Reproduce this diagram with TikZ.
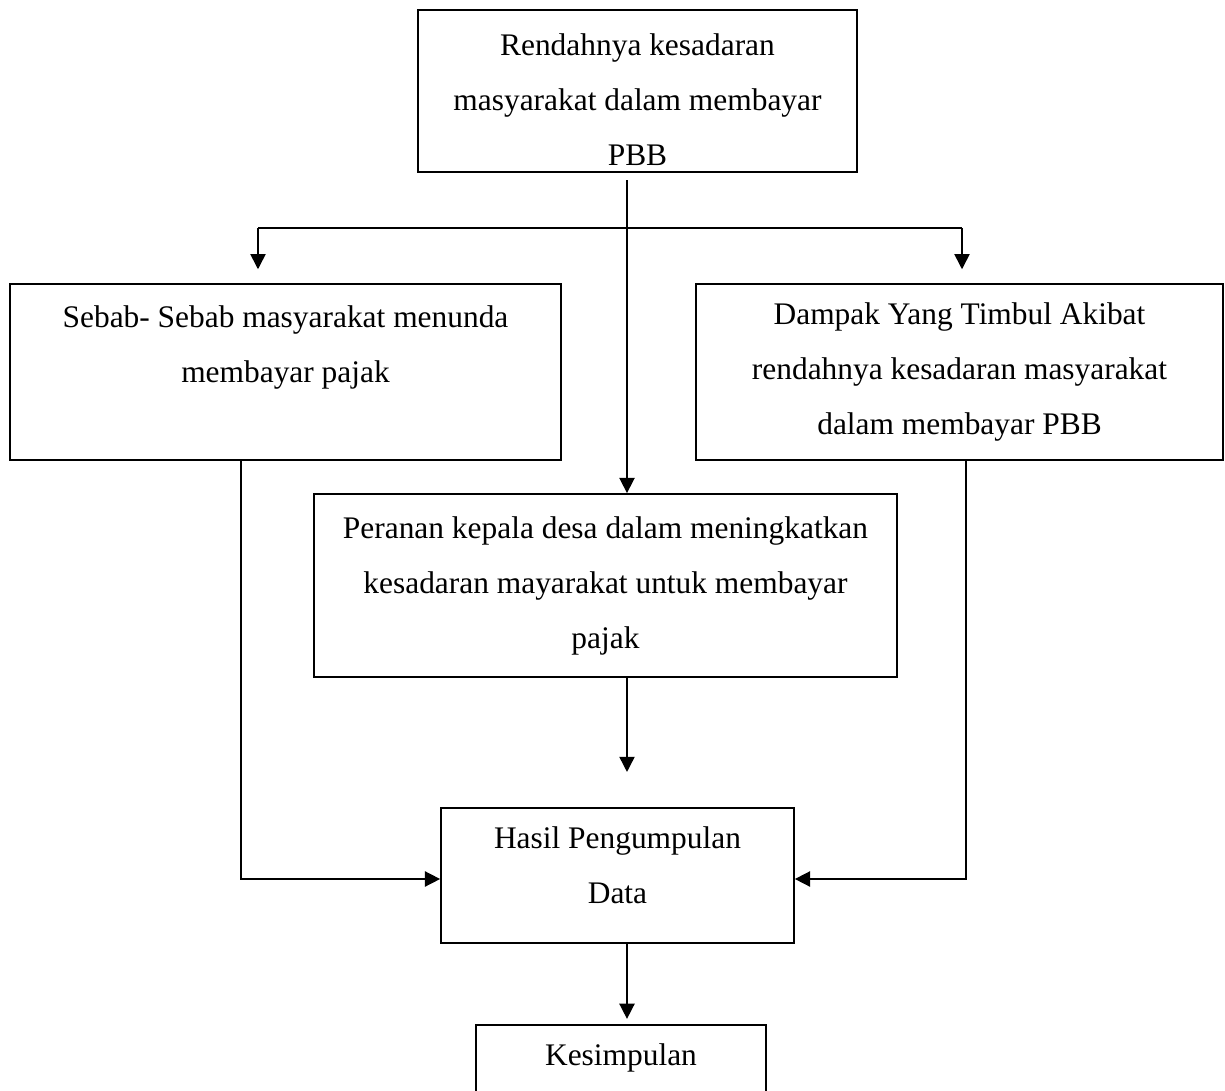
\documentclass[tikz,border=0pt]{standalone}
\usepackage{fontspec}
\setmainfont{Liberation Serif}
\usetikzlibrary{arrows.meta}

\begin{document}
\begin{tikzpicture}[x=0.382pt,y=-0.382pt,
    box/.style={draw,line width=0.7pt,rectangle,align=center,inner sep=0pt,
      font=\fontsize{12}{21}\selectfont},
    arr/.style={line width=0.6pt,-{Triangle[length=5.8pt,width=5.8pt]}},
    conn/.style={line width=0.6pt}]
      \useasboundingbox (0,0) rectangle (1225,1091);
      \clip (0,0) rectangle (1225,1091);
      \node[box,minimum width=167.7pt,minimum height=61.9pt] (rendah) at (637.5,91)
        {\rule{0pt}{15pt}Rendahnya kesadaran\\ masyarakat dalam membayar\\ PBB};
      \node[box,minimum width=210.5pt,minimum height=67.2pt] (sebab) at (285.5,372)
        {Sebab- Sebab masyarakat menunda\\ membayar pajak\\ \mbox{}};
      \node[box,minimum width=201.3pt,minimum height=67.2pt] (dampak) at (959.5,372)
        {Dampak Yang Timbul Akibat\\ rendahnya kesadaran masyarakat\\ dalam membayar PBB};
      \node[box,minimum width=222.7pt,minimum height=69.9pt] (peranan) at (605.5,585.5)
        {Peranan kepala desa dalam meningkatkan\\ kesadaran mayarakat untuk membayar\\ pajak};
      \node[box,minimum width=134.8pt,minimum height=51.6pt] (hasil) at (617.5,875.5)
        {Hasil Pengumpulan\\ Data\rule[-7.6pt]{0pt}{7.6pt}};
      \node[box,minimum width=110.8pt,minimum height=43.9pt] (simpul) at (621,1082.5)
        {Kesimpulan\\ \mbox{}};
      \coordinate (pusat) at (627,228);
      \coordinate (kiri) at (258,228);
      \coordinate (kanan) at (962,228);
      \coordinate (bawahkiri) at (241,879);
      \coordinate (bawahkanan) at (966,879);
      \draw[arr,shorten <=2.7pt] (rendah.south -| pusat)--(peranan.north -| pusat);
      \draw[conn] (kiri)--(kanan);
      \draw[arr,shorten >=5.3pt] (kiri)--(sebab.north -| kiri);
      \draw[arr,shorten >=5.3pt] (kanan)--(dampak.north -| kanan);
      \draw[arr,shorten >=13.4pt] (peranan.south -| pusat)--(hasil.north -| pusat);
      \draw[arr] (sebab.south -| bawahkiri)--(bawahkiri)--(bawahkiri -| hasil.west);
      \draw[arr] (dampak.south -| bawahkanan)--(bawahkanan)--(bawahkanan -| hasil.east);
      \draw[arr,shorten >=2pt] (hasil.south -| pusat)--(simpul.north -| pusat);
    \end{tikzpicture}
\end{document}
